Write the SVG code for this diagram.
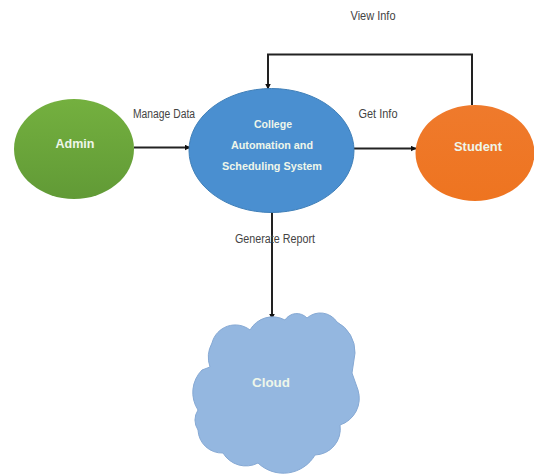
<svg xmlns="http://www.w3.org/2000/svg" width="534" height="474" viewBox="0 0 534 474">
<style>
.lbl{font-family:"Liberation Sans",Arial,sans-serif;font-size:12px;fill:#444;text-anchor:middle}
.w{font-family:"Liberation Sans",Arial,sans-serif;font-weight:bold;fill:#eef6ea;text-anchor:middle;font-size:11px}
.c{fill:none;stroke:#222;stroke-width:2}
</style>
<defs>
<marker id="a" markerWidth="7" markerHeight="7" refX="5.500" refY="3" orient="auto" markerUnits="userSpaceOnUse"><path d="M0 0L6 3L0 6Z" fill="#111"/></marker>
<linearGradient id="g" x1="0" y1="0" x2="0" y2="1"><stop offset="0" stop-color="#74b03f"/><stop offset="1" stop-color="#619a36"/></linearGradient>
<linearGradient id="o" x1="0" y1="0" x2="0" y2="1"><stop offset="0" stop-color="#ef7a2c"/><stop offset="1" stop-color="#ee7420"/></linearGradient>
</defs>
<rect width="534" height="474" fill="#fff"/>
<g id="connectors">
<path class="c" d="M134 147.500H190" marker-end="url(#a)"/>
<path class="c" d="M354 148.500H416" marker-end="url(#a)"/>
<path class="c" d="M472 105V54.500H268V89" marker-end="url(#a)"/>
<path class="c" d="M272 212V319" marker-end="url(#a)"/>
</g>
<g id="admin"><ellipse cx="74" cy="149" rx="60" ry="50" fill="url(#g)"/><text class="w" x="75" y="148" textLength="39" lengthAdjust="spacingAndGlyphs" style="font-size:12px">Admin</text></g>
<g id="system"><ellipse cx="271.500" cy="150.500" rx="82.500" ry="62" fill="#4a8fd0" stroke="#3f7fb8"/>
<text class="w" x="273" y="128" textLength="38" lengthAdjust="spacingAndGlyphs">College</text><text class="w" x="272" y="149" textLength="82" lengthAdjust="spacingAndGlyphs">Automation and</text><text class="w" x="272" y="170" textLength="100" lengthAdjust="spacingAndGlyphs">Scheduling System</text></g>
<g id="student"><ellipse cx="475" cy="153" rx="59.500" ry="48" fill="url(#o)"/><text class="w" x="478" y="151" textLength="48" lengthAdjust="spacingAndGlyphs" style="font-size:12px">Student</text></g>
<g id="cloud"><path d="M212 343A24 24 0 0 1 250 330A26 26 0 0 1 285 320A14 14 0 0 1 307 318A20 20 0 0 1 337 322A34 34 0 0 1 355 353L352 373L358 390A28 28 0 0 1 340 425A26 26 0 0 1 315 455A36.600 36.600 0 0 1 258 463A26.600 26.600 0 0 1 223 453A24 24 0 0 1 198 430A18 18 0 0 1 198 410A32 32 0 0 1 202 370L210 367A30 30 0 0 1 212 343Z" fill="#94b7e0" stroke="#86a9d4"/>
<text class="w" x="271" y="387" textLength="38" lengthAdjust="spacingAndGlyphs" style="font-size:12px">Cloud</text></g>
<text class="lbl" x="164" y="118" textLength="62" lengthAdjust="spacingAndGlyphs">Manage Data</text>
<text class="lbl" x="378" y="118" textLength="39" lengthAdjust="spacingAndGlyphs">Get Info</text>
<text class="lbl" x="373" y="20" textLength="45" lengthAdjust="spacingAndGlyphs">View Info</text>
<text class="lbl" x="275" y="243" textLength="80" lengthAdjust="spacingAndGlyphs">Generate Report</text>
</svg>
